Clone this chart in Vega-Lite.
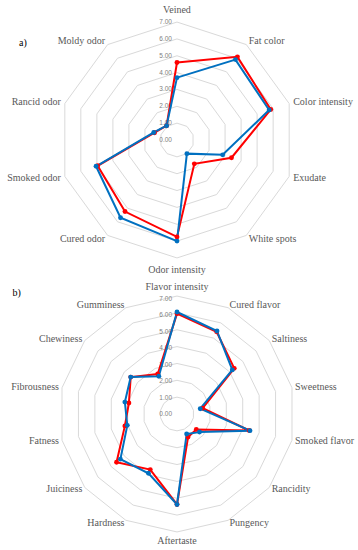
{
  "$schema": "https://vega.github.io/schema/vega-lite/v6.json",
  "padding": 0,
  "spacing": 0,
  "config": {"view": {"stroke": null}},
  "datasets": {
    "sensoryA": [
      {"attribute": "Veined", "Sample 1": 4.6, "Sample 2": 3.7},
      {"attribute": "Fat color", "Sample 1": 6.1, "Sample 2": 5.9},
      {"attribute": "Color intensity", "Sample 1": 5.85, "Sample 2": 5.75},
      {"attribute": "Exudate", "Sample 1": 3.4, "Sample 2": 2.85},
      {"attribute": "White spots", "Sample 1": 1.75, "Sample 2": 1.0},
      {"attribute": "Odor intensity", "Sample 1": 5.75, "Sample 2": 6.0},
      {"attribute": "Cured odor", "Sample 1": 5.25, "Sample 2": 5.7},
      {"attribute": "Smoked odor", "Sample 1": 4.95, "Sample 2": 5.05},
      {"attribute": "Rancid odor", "Sample 1": 1.4, "Sample 2": 1.45},
      {"attribute": "Moldy odor", "Sample 1": 1.05, "Sample 2": 1.05}
    ],
    "sensoryB": [
      {"attribute": "Flavor intensity", "Sample 1": 6.1, "Sample 2": 6.2},
      {"attribute": "Cured flavor", "Sample 1": 5.55, "Sample 2": 5.6},
      {"attribute": "Saltiness", "Sample 1": 4.45, "Sample 2": 4.3},
      {"attribute": "Sweetness", "Sample 1": 1.6, "Sample 2": 1.45},
      {"attribute": "Smoked flavor", "Sample 1": 4.5, "Sample 2": 4.55},
      {"attribute": "Rancidity", "Sample 1": 1.5, "Sample 2": 1.75},
      {"attribute": "Pungency", "Sample 1": 1.55, "Sample 2": 1.35},
      {"attribute": "Aftertaste", "Sample 1": 5.5, "Sample 2": 5.5},
      {"attribute": "Hardness", "Sample 1": 3.75, "Sample 2": 4.0},
      {"attribute": "Juiciness", "Sample 1": 4.7, "Sample 2": 4.4},
      {"attribute": "Fatness", "Sample 1": 3.25, "Sample 2": 3.1},
      {"attribute": "Fibrousness", "Sample 1": 3.0, "Sample 2": 3.25},
      {"attribute": "Chewiness", "Sample 1": 3.6, "Sample 2": 3.6},
      {"attribute": "Gumminess", "Sample 1": 2.7, "Sample 2": 2.55}
    ],
    "levels": [
      {"level": 0}, {"level": 1}, {"level": 2}, {"level": 3},
      {"level": 4}, {"level": 5}, {"level": 6}, {"level": 7}
    ],
    "tagA": [{"tag": "a)"}],
    "tagB": [{"tag": "b)"}]
  },
  "vconcat": [
    {
      "width": 358,
      "height": 275,
      "layer": [
        {
          "data": {"name": "levels"},
          "transform": [{"filter": "datum.level > 0"}],
          "mark": {"type": "point", "shape": "M0,-1L0.5878,-0.809L0.9511,-0.309L0.9511,0.309L0.5878,0.809L0,1L-0.5878,0.809L-0.9511,0.309L-0.9511,-0.309L-0.5878,-0.809Z", "filled": false, "stroke": "#d9d9d9", "strokeWidth": 1, "opacity": 1},
          "encoding": {
            "x": {"datum": 0, "type": "quantitative", "scale": {"domain": [-10.504, 10.742], "nice": false, "zero": false}, "axis": null},
            "y": {"datum": 0, "type": "quantitative", "scale": {"domain": [-8.012, 8.309], "nice": false, "zero": false}, "axis": null},
            "size": {"field": "level", "type": "quantitative", "scale": {"type": "pow", "exponent": 2, "domain": [0, 7], "range": [0, 55648]}, "legend": null}
          }
        },
        {
          "data": {"name": "levels"},
          "mark": {"type": "text", "align": "right", "baseline": "middle", "dx": -5, "font": "Liberation Sans", "fontSize": 6.5, "color": "#808080"},
          "encoding": {
            "x": {"datum": 0, "type": "quantitative", "scale": {"domain": [-10.504, 10.742], "nice": false, "zero": false}, "axis": null},
            "y": {"field": "level", "type": "quantitative", "scale": {"domain": [-8.012, 8.309], "nice": false, "zero": false}, "axis": null},
            "text": {"field": "level", "type": "quantitative", "format": ".2f"}
          }
        },
        {
          "data": {"name": "sensoryA"},
          "transform": [
            {"window": [{"op": "row_number", "as": "i"}]},
            {"calculate": "(datum.i - 1) * 2 * PI / 10", "as": "theta"},
            {"fold": ["Sample 1", "Sample 2"], "as": ["sample", "score"]},
            {"calculate": "datum.score * sin(datum.theta)", "as": "px"},
            {"calculate": "datum.score * cos(datum.theta)", "as": "py"}
          ],
          "mark": {"type": "line", "interpolate": "linear-closed", "strokeWidth": 2},
          "encoding": {
            "x": {"field": "px", "type": "quantitative", "scale": {"domain": [-10.504, 10.742], "nice": false, "zero": false}, "axis": null},
            "y": {"field": "py", "type": "quantitative", "scale": {"domain": [-8.012, 8.309], "nice": false, "zero": false}, "axis": null},
            "color": {"field": "sample", "type": "nominal", "scale": {"domain": ["Sample 1", "Sample 2"], "range": ["#FF0000", "#0070C0"]}, "legend": null},
            "order": {"field": "i", "type": "quantitative"}
          }
        },
        {
          "data": {"name": "sensoryA"},
          "transform": [
            {"window": [{"op": "row_number", "as": "i"}]},
            {"calculate": "(datum.i - 1) * 2 * PI / 10", "as": "theta"},
            {"fold": ["Sample 1", "Sample 2"], "as": ["sample", "score"]},
            {"calculate": "datum.score * sin(datum.theta)", "as": "px"},
            {"calculate": "datum.score * cos(datum.theta)", "as": "py"}
          ],
          "mark": {"type": "circle", "size": 24, "opacity": 1},
          "encoding": {
            "x": {"field": "px", "type": "quantitative", "scale": {"domain": [-10.504, 10.742], "nice": false, "zero": false}, "axis": null},
            "y": {"field": "py", "type": "quantitative", "scale": {"domain": [-8.012, 8.309], "nice": false, "zero": false}, "axis": null},
            "color": {"field": "sample", "type": "nominal", "scale": {"domain": ["Sample 1", "Sample 2"], "range": ["#FF0000", "#0070C0"]}, "legend": null}
          }
        },
        {
          "data": {"name": "sensoryA"},
          "transform": [
            {"window": [{"op": "row_number", "as": "i"}]},
            {"calculate": "(datum.i - 1) * 2 * PI / 10", "as": "theta"},
            {"calculate": "abs(sin(datum.theta)) < 0.01 ? 7.7 : 7.25", "as": "rad"},
            {"calculate": "datum.rad * sin(datum.theta)", "as": "lx"},
            {"calculate": "datum.rad * cos(datum.theta)", "as": "ly"},
            {"filter": "sin(datum.theta) > 0.01"}
          ],
          "mark": {"type": "text", "align": "left", "baseline": "middle", "font": "Liberation Serif", "fontSize": 10, "color": "#595959"},
          "encoding": {
            "x": {"field": "lx", "type": "quantitative", "scale": {"domain": [-10.504, 10.742], "nice": false, "zero": false}, "axis": null},
            "y": {"field": "ly", "type": "quantitative", "scale": {"domain": [-8.012, 8.309], "nice": false, "zero": false}, "axis": null},
            "text": {"field": "attribute"}
          }
        },
        {
          "data": {"name": "sensoryA"},
          "transform": [
            {"window": [{"op": "row_number", "as": "i"}]},
            {"calculate": "(datum.i - 1) * 2 * PI / 10", "as": "theta"},
            {"calculate": "abs(sin(datum.theta)) < 0.01 ? 7.7 : 7.25", "as": "rad"},
            {"calculate": "datum.rad * sin(datum.theta)", "as": "lx"},
            {"calculate": "datum.rad * cos(datum.theta)", "as": "ly"},
            {"filter": "sin(datum.theta) < -0.01"}
          ],
          "mark": {"type": "text", "align": "right", "baseline": "middle", "font": "Liberation Serif", "fontSize": 10, "color": "#595959"},
          "encoding": {
            "x": {"field": "lx", "type": "quantitative", "scale": {"domain": [-10.504, 10.742], "nice": false, "zero": false}, "axis": null},
            "y": {"field": "ly", "type": "quantitative", "scale": {"domain": [-8.012, 8.309], "nice": false, "zero": false}, "axis": null},
            "text": {"field": "attribute"}
          }
        },
        {
          "data": {"name": "sensoryA"},
          "transform": [
            {"window": [{"op": "row_number", "as": "i"}]},
            {"calculate": "(datum.i - 1) * 2 * PI / 10", "as": "theta"},
            {"calculate": "abs(sin(datum.theta)) < 0.01 ? 7.7 : 7.25", "as": "rad"},
            {"calculate": "datum.rad * sin(datum.theta)", "as": "lx"},
            {"calculate": "datum.rad * cos(datum.theta)", "as": "ly"},
            {"filter": "abs(sin(datum.theta)) <= 0.01"}
          ],
          "mark": {"type": "text", "align": "center", "baseline": "middle", "font": "Liberation Serif", "fontSize": 10, "color": "#595959"},
          "encoding": {
            "x": {"field": "lx", "type": "quantitative", "scale": {"domain": [-10.504, 10.742], "nice": false, "zero": false}, "axis": null},
            "y": {"field": "ly", "type": "quantitative", "scale": {"domain": [-8.012, 8.309], "nice": false, "zero": false}, "axis": null},
            "text": {"field": "attribute"}
          }
        },
        {
          "data": {"name": "tagA"},
          "mark": {"type": "text", "align": "center", "baseline": "middle", "font": "Liberation Serif", "fontSize": 10, "color": "#000000"},
          "encoding": {
            "x": {"datum": -9.14, "type": "quantitative", "scale": {"domain": [-10.504, 10.742], "nice": false, "zero": false}, "axis": null},
            "y": {"datum": 5.76, "type": "quantitative", "scale": {"domain": [-8.012, 8.309], "nice": false, "zero": false}, "axis": null},
            "text": {"field": "tag"}
          }
        }
      ]
    },
    {
      "width": 358,
      "height": 275,
      "layer": [
        {
          "data": {"name": "levels"},
          "transform": [{"filter": "datum.level > 0"}],
          "mark": {"type": "point", "shape": "M0,-1L0.4339,-0.901L0.7818,-0.6235L0.9749,-0.2225L0.9749,0.2225L0.7818,0.6235L0.4339,0.901L0,1L-0.4339,0.901L-0.7818,0.6235L-0.9749,0.2225L-0.9749,-0.2225L-0.7818,-0.6235L-0.4339,-0.901Z", "filled": false, "stroke": "#d9d9d9", "strokeWidth": 1, "opacity": 1},
          "encoding": {
            "x": {"datum": 0, "type": "quantitative", "scale": {"domain": [-10.76, 11.003], "nice": false, "zero": false}, "axis": null},
            "y": {"datum": 0, "type": "quantitative", "scale": {"domain": [-8.267, 8.45], "nice": false, "zero": false}, "axis": null},
            "size": {"field": "level", "type": "quantitative", "scale": {"type": "pow", "exponent": 2, "domain": [0, 7], "range": [0, 53038]}, "legend": null}
          }
        },
        {
          "data": {"name": "levels"},
          "mark": {"type": "text", "align": "right", "baseline": "middle", "dx": -5, "font": "Liberation Sans", "fontSize": 6.5, "color": "#808080"},
          "encoding": {
            "x": {"datum": 0, "type": "quantitative", "scale": {"domain": [-10.76, 11.003], "nice": false, "zero": false}, "axis": null},
            "y": {"field": "level", "type": "quantitative", "scale": {"domain": [-8.267, 8.45], "nice": false, "zero": false}, "axis": null},
            "text": {"field": "level", "type": "quantitative", "format": ".2f"}
          }
        },
        {
          "data": {"name": "sensoryB"},
          "transform": [
            {"window": [{"op": "row_number", "as": "i"}]},
            {"calculate": "(datum.i - 1) * 2 * PI / 14", "as": "theta"},
            {"fold": ["Sample 1", "Sample 2"], "as": ["sample", "score"]},
            {"calculate": "datum.score * sin(datum.theta)", "as": "px"},
            {"calculate": "datum.score * cos(datum.theta)", "as": "py"}
          ],
          "mark": {"type": "line", "interpolate": "linear-closed", "strokeWidth": 2},
          "encoding": {
            "x": {"field": "px", "type": "quantitative", "scale": {"domain": [-10.76, 11.003], "nice": false, "zero": false}, "axis": null},
            "y": {"field": "py", "type": "quantitative", "scale": {"domain": [-8.267, 8.45], "nice": false, "zero": false}, "axis": null},
            "color": {"field": "sample", "type": "nominal", "scale": {"domain": ["Sample 1", "Sample 2"], "range": ["#FF0000", "#0070C0"]}, "legend": null},
            "order": {"field": "i", "type": "quantitative"}
          }
        },
        {
          "data": {"name": "sensoryB"},
          "transform": [
            {"window": [{"op": "row_number", "as": "i"}]},
            {"calculate": "(datum.i - 1) * 2 * PI / 14", "as": "theta"},
            {"fold": ["Sample 1", "Sample 2"], "as": ["sample", "score"]},
            {"calculate": "datum.score * sin(datum.theta)", "as": "px"},
            {"calculate": "datum.score * cos(datum.theta)", "as": "py"}
          ],
          "mark": {"type": "circle", "size": 24, "opacity": 1},
          "encoding": {
            "x": {"field": "px", "type": "quantitative", "scale": {"domain": [-10.76, 11.003], "nice": false, "zero": false}, "axis": null},
            "y": {"field": "py", "type": "quantitative", "scale": {"domain": [-8.267, 8.45], "nice": false, "zero": false}, "axis": null},
            "color": {"field": "sample", "type": "nominal", "scale": {"domain": ["Sample 1", "Sample 2"], "range": ["#FF0000", "#0070C0"]}, "legend": null}
          }
        },
        {
          "data": {"name": "sensoryB"},
          "transform": [
            {"window": [{"op": "row_number", "as": "i"}]},
            {"calculate": "(datum.i - 1) * 2 * PI / 14", "as": "theta"},
            {"calculate": "abs(sin(datum.theta)) < 0.01 ? 7.75 : 7.36", "as": "rad"},
            {"calculate": "datum.rad * sin(datum.theta)", "as": "lx"},
            {"calculate": "datum.rad * cos(datum.theta)", "as": "ly"},
            {"filter": "sin(datum.theta) > 0.01"}
          ],
          "mark": {"type": "text", "align": "left", "baseline": "middle", "font": "Liberation Serif", "fontSize": 10, "color": "#595959"},
          "encoding": {
            "x": {"field": "lx", "type": "quantitative", "scale": {"domain": [-10.76, 11.003], "nice": false, "zero": false}, "axis": null},
            "y": {"field": "ly", "type": "quantitative", "scale": {"domain": [-8.267, 8.45], "nice": false, "zero": false}, "axis": null},
            "text": {"field": "attribute"}
          }
        },
        {
          "data": {"name": "sensoryB"},
          "transform": [
            {"window": [{"op": "row_number", "as": "i"}]},
            {"calculate": "(datum.i - 1) * 2 * PI / 14", "as": "theta"},
            {"calculate": "abs(sin(datum.theta)) < 0.01 ? 7.75 : 7.36", "as": "rad"},
            {"calculate": "datum.rad * sin(datum.theta)", "as": "lx"},
            {"calculate": "datum.rad * cos(datum.theta)", "as": "ly"},
            {"filter": "sin(datum.theta) < -0.01"}
          ],
          "mark": {"type": "text", "align": "right", "baseline": "middle", "font": "Liberation Serif", "fontSize": 10, "color": "#595959"},
          "encoding": {
            "x": {"field": "lx", "type": "quantitative", "scale": {"domain": [-10.76, 11.003], "nice": false, "zero": false}, "axis": null},
            "y": {"field": "ly", "type": "quantitative", "scale": {"domain": [-8.267, 8.45], "nice": false, "zero": false}, "axis": null},
            "text": {"field": "attribute"}
          }
        },
        {
          "data": {"name": "sensoryB"},
          "transform": [
            {"window": [{"op": "row_number", "as": "i"}]},
            {"calculate": "(datum.i - 1) * 2 * PI / 14", "as": "theta"},
            {"calculate": "abs(sin(datum.theta)) < 0.01 ? 7.75 : 7.36", "as": "rad"},
            {"calculate": "datum.rad * sin(datum.theta)", "as": "lx"},
            {"calculate": "datum.rad * cos(datum.theta)", "as": "ly"},
            {"filter": "abs(sin(datum.theta)) <= 0.01"}
          ],
          "mark": {"type": "text", "align": "center", "baseline": "middle", "font": "Liberation Serif", "fontSize": 10, "color": "#595959"},
          "encoding": {
            "x": {"field": "lx", "type": "quantitative", "scale": {"domain": [-10.76, 11.003], "nice": false, "zero": false}, "axis": null},
            "y": {"field": "ly", "type": "quantitative", "scale": {"domain": [-8.267, 8.45], "nice": false, "zero": false}, "axis": null},
            "text": {"field": "attribute"}
          }
        },
        {
          "data": {"name": "tagB"},
          "mark": {"type": "text", "align": "center", "baseline": "middle", "font": "Liberation Serif", "fontSize": 10, "color": "#000000"},
          "encoding": {
            "x": {"datum": -9.74, "type": "quantitative", "scale": {"domain": [-10.76, 11.003], "nice": false, "zero": false}, "axis": null},
            "y": {"datum": 7.34, "type": "quantitative", "scale": {"domain": [-8.267, 8.45], "nice": false, "zero": false}, "axis": null},
            "text": {"field": "tag"}
          }
        }
      ]
    }
  ]
}
